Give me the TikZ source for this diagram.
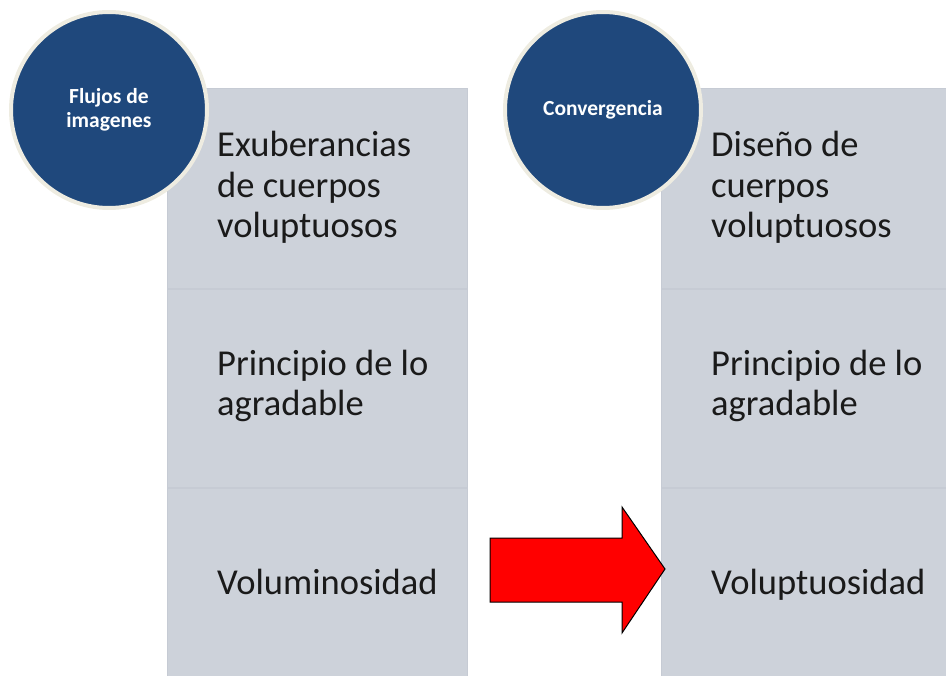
\documentclass[tikz,border=0pt]{standalone}
\usepackage{fontspec}
\setmainfont{Carlito}
\newfontfamily\bodyfont{Carlito}
\usetikzlibrary{positioning}
\definecolor{boxgray}{HTML}{CDD2DA}
\definecolor{boxedge}{HTML}{C6CBD4}
\definecolor{gapgray}{HTML}{D6DAE1}
\definecolor{circblue}{HTML}{1F487C}
\definecolor{circrim}{HTML}{EEECE1}
\definecolor{bodytext}{HTML}{1A1A1A}
\tikzset{
  section/.style={rectangle, fill=boxgray, draw=boxedge, line width=0.8pt, inner sep=0pt, anchor=north west, minimum width=#1},
  headcirc/.style={circle, fill=circblue, draw=circrim, line width=4pt, minimum size=196pt, inner sep=0pt,
    font=\bfseries\fontsize{21.5}{24}\selectfont, text=white, align=center},
  bodytxt/.style={anchor=base west, inner sep=0pt, align=left, text=bodytext,
    font=\bodyfont\fontsize{36.5}{40.5}\selectfont},
  bigarrow/.style={fill=red, draw=black, line width=1pt, line join=miter}
}
\begin{document}
\begin{tikzpicture}[x=1pt,y=-1pt]
\useasboundingbox (0,0) rectangle (946,676);
% left column
\node[section=300pt, minimum height=200pt] (l1) at (167,88) {};
\node[section=300pt, minimum height=198pt] (l2) at (167,289) {};
\node[section=300pt, minimum height=190pt] (l3) at (167,488) {};
% right column
\node[section=300pt, minimum height=200pt] (r1) at (661,88) {};
\node[section=300pt, minimum height=198pt] (r2) at (661,289) {};
\node[section=300pt, minimum height=190pt] (r3) at (661,488) {};
% texts (anchor = baseline of last line)
\node[bodytxt] (t1) at (217,238) {Exuberancias\\de cuerpos\\voluptuosos};
\node[bodytxt] (t2) at (217,416) {Principio de lo\\agradable};
\node[bodytxt] (t3) at (217,594) {Voluminosidad};
\node[bodytxt] (u1) at (711,238) {Diseño de\\cuerpos\\voluptuosos};
\node[bodytxt] (u2) at (711,416) {Principio de lo\\agradable};
\node[bodytxt] (u3) at (711,594) {Voluptuosidad};
% circles
\node[headcirc] (c1) at (109,110) {Flujos de\\imagenes};
\node[headcirc] (c2) at (603,110) {Convergencia};
% arrow
\coordinate (a0) at (490,538);
\draw[bigarrow] (a0) -- (622,538) -- (622,507) -- (665,569) -- (622,633) -- (622,602) -- (490,602) -- cycle;
\end{tikzpicture}
\end{document}
